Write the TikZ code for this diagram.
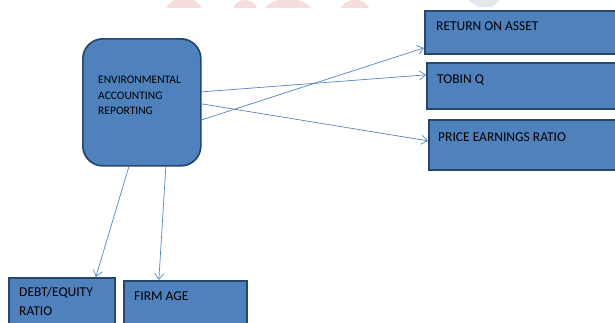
\documentclass[tikz,border=0pt]{standalone}
\usepackage{fontspec}
\setmainfont{Carlito}
\usetikzlibrary{arrows.meta}
\definecolor{boxfill}{HTML}{4F81BD}
\definecolor{boxline}{HTML}{27466D}
\definecolor{arrowc}{HTML}{5585C4}
\definecolor{wmpink}{HTML}{F6DCDC}
\definecolor{wmgrey}{HTML}{E4E8EE}
\tikzset{
  box/.style={draw=boxline, line width=1.7pt, fill=boxfill, rectangle, anchor=north west, inner sep=0pt},
  rbox/.style={box, rounded corners=20pt},
  lbl/.style={anchor=north west, inner sep=0pt, align=left, text=black, font=\fontsize{13.5}{19}\selectfont},
  conn/.style={draw=arrowc, line width=0.7pt, -{Straight Barb[length=6pt,width=9pt,line width=0.7pt]}},
  wm/.style={fill=wmpink, draw=none}
}
\begin{document}
\begin{tikzpicture}[x=1pt,y=-1pt]
\clip (0,0) rectangle (615,322);
\fill[white] (0,0) rectangle (615,322);
% faint watermark remnants at the top edge
\begin{scope}
\clip (0,0) rectangle (615,7);
\fill[wm] (184,12) ellipse (18pt and 14pt);
\fill[wm] (245,10) ellipse (12pt and 10pt);
\fill[wm] (288,14) ellipse (25pt and 15pt);
\fill[wm] (355,12) ellipse (15pt and 12pt);
\fill[wmgrey] (468,0) -- (500,0) -- (492,7) -- (478,7) -- cycle;
\end{scope}
% boxes
\node[rbox, minimum width=118pt, minimum height=127pt] (env) at (82,38) {};
\node[box, minimum width=200pt, minimum height=43pt] (ret) at (424,10) {};
\node[box, minimum width=200pt, minimum height=46pt] (tob) at (426,62) {};
\node[box, minimum width=200pt, minimum height=50pt] (pri) at (428,119) {};
\node[box, minimum width=106pt, minimum height=60pt] (deb) at (8,277) {};
\node[box, minimum width=123pt, minimum height=60pt] (age) at (123,280) {};
% labels
\node[lbl, font=\fontsize{11.5}{15.5}\selectfont] (envt) at (98,76) {ENVIRONMENTAL\\ACCOUNTING\\REPORTING};
\node[lbl] (rett) at (436,22) {RETURN ON ASSET};
\node[lbl] (tobt) at (437,75) {TOBIN Q};
\node[lbl] (prit) at (438,133) {PRICE EARNINGS RATIO};
\node[lbl] (debt) at (19,287) {DEBT/EQUITY\\RATIO};
\node[lbl] (aget) at (134,292) {FIRM AGE};
% connectors
\draw[conn] ([yshift=-17.5pt]env.east) -- ([yshift=-15.5pt]ret.west);
\draw[conn] ([yshift=10.5pt]env.east) -- ([yshift=11pt]tob.west);
\draw[conn] ([yshift=-1.5pt]env.east) -- ([yshift=4pt]pri.west);
\draw[conn] ([xshift=-13pt]env.south) -- ([xshift=34pt]deb.north);
\draw[conn] ([xshift=24pt]env.south) -- ([xshift=-26.5pt]age.north);
\end{tikzpicture}
\end{document}
